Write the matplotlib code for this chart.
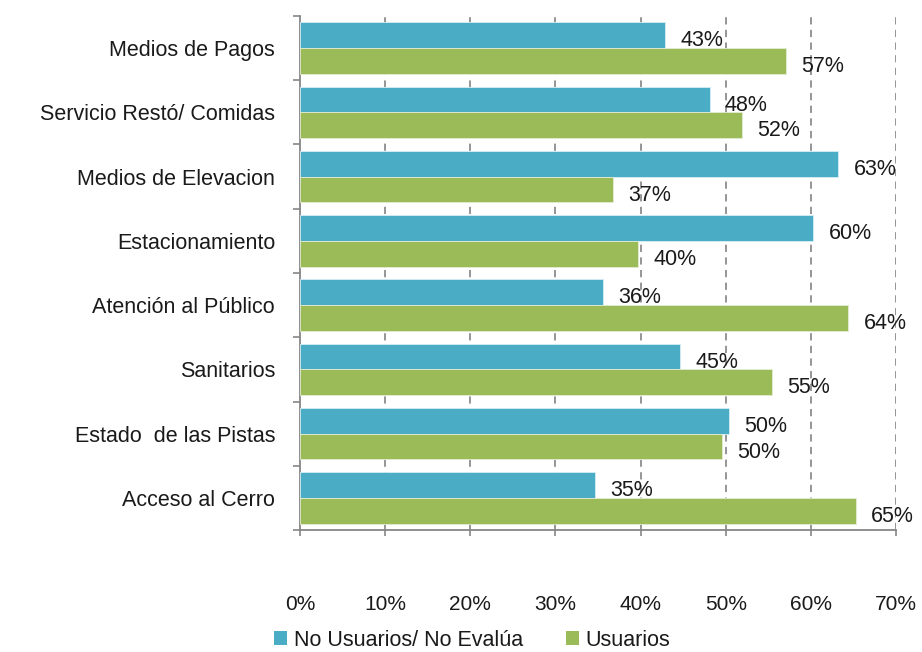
import numpy as np
import matplotlib.pyplot as plt
from matplotlib.patches import Patch

categorias = ['Medios de Pagos', 'Servicio Restó/ Comidas', 'Medios de Elevacion',
              'Estacionamiento', 'Atención al Público', 'Sanitarios',
              'Estado  de las Pistas', 'Acceso al Cerro']
no_usuarios = [42.9, 48.1, 63.2, 60.3, 35.6, 44.6, 50.4, 34.7]
usuarios = [57.1, 51.9, 36.8, 39.7, 64.4, 55.4, 49.6, 65.3]
xticks = [0, 10, 20, 30, 40, 50, 60, 70]

azul = '#4BACC6'
verde = '#9BBB59'
gris = '#868686'
texto = '#1a1a1a'

plt.rcParams['font.family'] = ['Liberation Sans', 'DejaVu Sans']

fig = plt.figure(figsize=(9.22, 6.52), dpi=100)
ax = fig.add_axes([0.3254, 0.1871, 0.9718 - 0.3254, 0.9755 - 0.1871])

y = np.arange(len(categorias))
h = 0.4
b1 = ax.barh(y - h / 2, no_usuarios, height=h, color=azul, edgecolor='#d6eef4', linewidth=0.6, zorder=3)
b2 = ax.barh(y + h / 2, usuarios, height=h, color=verde, edgecolor='#e3ecd2', linewidth=0.6, zorder=3)

# etiquetas de porcentaje al final de cada barra
for barras, vals in ((b1, no_usuarios), (b2, usuarios)):
    for bar, v in zip(barras, vals):
        ax.annotate('%.0f%%' % v, xy=(v, bar.get_y() + bar.get_height() / 2),
                    xytext=(11, -4), textcoords='offset points',
                    ha='left', va='center', fontsize=15.5, color=texto, zorder=4)

ax.set_xlim(0, 70)
ax.set_ylim(len(categorias) - 0.5, -0.5)
ax.set_xticks(xticks)
ax.set_xticklabels(['%d%%' % t for t in xticks])
ax.set_yticks(np.arange(-0.5, len(categorias), 1))
ax.set_yticklabels([])
ax.set_yticks(y, minor=True)
ax.set_yticklabels(categorias, minor=True)

ax.tick_params(axis='x', length=4, width=1.2, color=gris, pad=43, labelsize=15, labelcolor=texto)
ax.tick_params(axis='y', which='major', length=5, width=1.2, color=gris)
ax.tick_params(axis='y', which='minor', length=0, pad=18, labelsize=15.5, labelcolor=texto)

for t in xticks[1:]:
    ax.axvline(t, color='#8c8c8c', linestyle=(0, (4, 3)), linewidth=1.3, zorder=1)

for s in ['top', 'right']:
    ax.spines[s].set_visible(False)
for s in ['left', 'bottom']:
    ax.spines[s].set_color(gris)
    ax.spines[s].set_linewidth(1.3)

handles = [Patch(facecolor=azul), Patch(facecolor=verde)]
fig.legend(handles, ['No Usuarios/ No Evalúa', 'Usuarios'], loc='center',
           bbox_to_anchor=(472 / 922, 1 - 640 / 652), ncol=2, frameon=False,
           fontsize=15.5, handlelength=0.6, handleheight=0.6, handletextpad=0.3,
           columnspacing=2.0, labelcolor=texto)

fig.savefig('out.png', dpi=100)
